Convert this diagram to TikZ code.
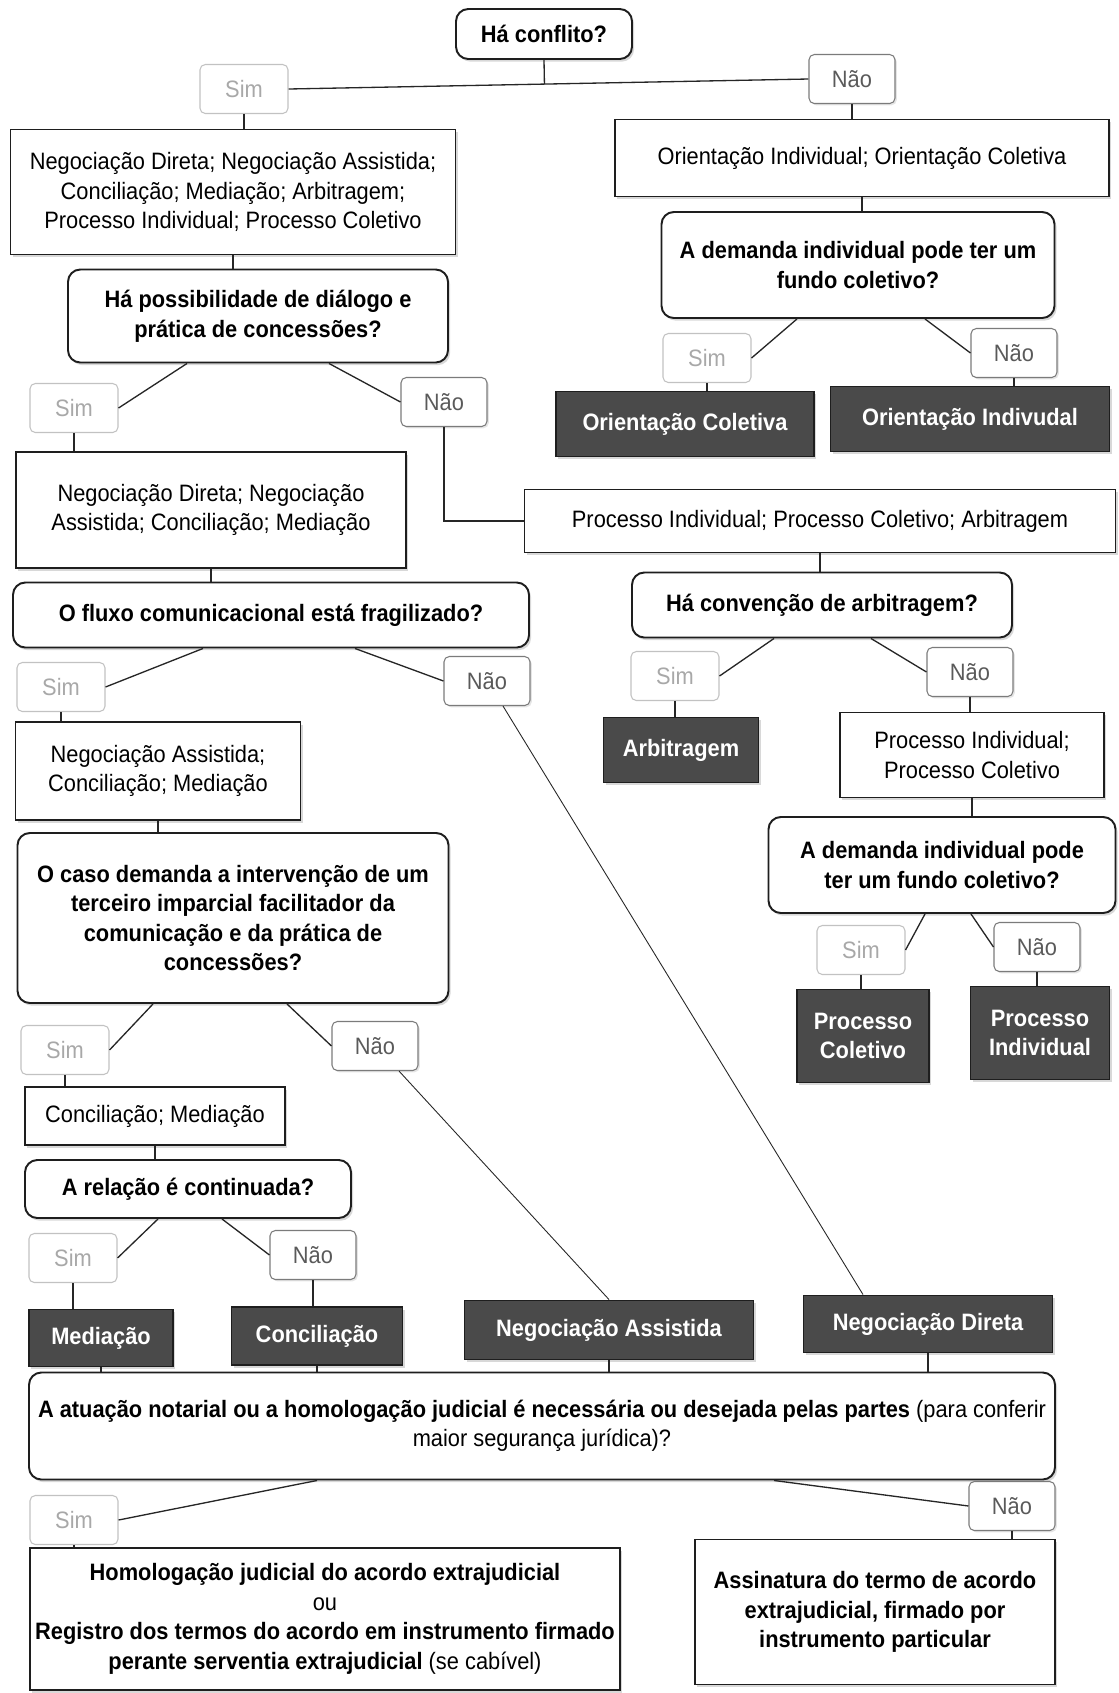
\documentclass[tikz,border=0pt]{standalone}
\usepackage{fontspec}
\setmainfont{Liberation Sans}[FakeStretch=0.92]
\usepackage{tikz}
\usetikzlibrary{calc,shadows}
\definecolor{boxdark}{HTML}{4A4A4A}
\definecolor{boxline}{HTML}{1E1E1E}
\definecolor{simgray}{HTML}{A8A8A8}
\definecolor{naogray}{HTML}{5A5A5A}
\newcommand{\qsize}{\fontsize{13.5}{16.8}\selectfont}
\tikzset{
  boxsize/.style 2 args={minimum width=#1*0.2mm, minimum height=#2*0.2mm},
  optbox/.style={draw=boxline, line width=1.1pt, fill=white, align=center, inner sep=2pt, font=\qsize,
    drop shadow={opacity=0.3, shadow xshift=1.2pt, shadow yshift=-1.5pt}},
  askbox/.style={optbox, rounded corners=7pt, font=\qsize\bfseries},
  endbox/.style={draw=boxline, line width=1.1pt, fill=boxdark, text=white, align=center, inner sep=2pt,
    font=\qsize\bfseries, drop shadow={opacity=0.3, shadow xshift=1.2pt, shadow yshift=-1.5pt}},
  simbox/.style={draw=simgray!70, line width=0.6pt, fill=white, rounded corners=3pt, text=simgray,
    font=\qsize, boxsize={88}{49}},
  naobox/.style={draw=naogray!80, line width=0.6pt, fill=white, rounded corners=3pt, text=naogray,
    font=\qsize, boxsize={86}{49}, drop shadow={opacity=0.2, shadow xshift=1pt, shadow yshift=-1pt}},
  link/.style={line width=0.75pt, black!85}
}

\begin{document}
\begin{tikzpicture}[x=0.2mm, y=-0.2mm]
  \path[use as bounding box, fill=white] (0,0) rectangle (1118,1693);

  \node[askbox, boxsize={176}{50}] (conflito) at (544,34) {Há conflito?};
  \node[simbox] (simA) at (244,89) {Sim};
  \node[naobox] (naoA) at (852,79) {Não};
  \node[optbox, boxsize={445}{125}] (opcoes) at (233,192) {Negociação Direta; Negociação Assistida;\\Conciliação; Mediação; Arbitragem;\\Processo Individual; Processo Coletivo};
  \node[optbox, boxsize={494}{77}] (orient) at (862,158) {Orientação Individual; Orientação Coletiva};
  \node[askbox, boxsize={393}{106}] (demandaA) at (858,265) {A demanda individual pode ter um\\fundo coletivo?};
  \node[askbox, boxsize={380}{93}] (dialogo) at (258,316) {Há possibilidade de diálogo e\\prática de concessões?};
  \node[simbox] (simB) at (707,358) {Sim};
  \node[naobox] (naoB) at (1014,353) {Não};
  \node[endbox, boxsize={258}{65}] (orientCol) at (685,424) {Orientação Coletiva};
  \node[endbox, boxsize={279}{65}] (orientInd) at (970,419) {Orientação Indivudal};
  \node[simbox] (simC) at (74,408) {Sim};
  \node[naobox] (naoC) at (444,402) {Não};
  \node[optbox, boxsize={390}{116}] (negA) at (211,510) {Negociação Direta; Negociação\\Assistida; Conciliação; Mediação};
  \node[optbox, boxsize={591}{63}] (procArb) at (820,521) {Processo Individual; Processo Coletivo; Arbitragem};
  \node[askbox, boxsize={380}{65}] (convencao) at (822,605) {Há convenção de arbitragem?};
  \node[askbox, boxsize={516}{65}] (fluxo) at (271,615) {O fluxo comunicacional está fragilizado?};
  \node[simbox] (simD) at (61,687) {Sim};
  \node[naobox] (naoD) at (487,681) {Não};
  \node[simbox] (simE) at (675,676) {Sim};
  \node[naobox] (naoE) at (970,672) {Não};
  \node[endbox, boxsize={155}{65}] (arbitragem) at (681,750) {Arbitragem};
  \node[optbox, boxsize={264}{85}] (procIC) at (972,755) {Processo Individual;\\Processo Coletivo};
  \node[optbox, boxsize={285}{98}] (negB) at (158,771) {Negociação Assistida;\\Conciliação; Mediação};
  \node[askbox, boxsize={347}{96}] (demandaB) at (942,865) {A demanda individual pode\\ter um fundo coletivo?};
  \node[askbox, boxsize={431}{170}] (caso) at (233,918) {O caso demanda a intervenção de um\\terceiro imparcial facilitador da\\comunicação e da prática de\\concessões?};
  \node[simbox] (simF) at (861,950) {Sim};
  \node[naobox] (naoF) at (1037,947) {Não};
  \node[endbox, boxsize={132}{93}] (procCol) at (863,1036) {Processo\\Coletivo};
  \node[endbox, boxsize={139}{93}] (procInd) at (1040,1033) {Processo\\Individual};
  \node[simbox] (simG) at (65,1050) {Sim};
  \node[naobox] (naoG) at (375,1046) {Não};
  \node[optbox, boxsize={260}{58}] (concMed) at (155,1116) {Conciliação; Mediação};
  \node[askbox, boxsize={326}{58}] (relacao) at (188,1189) {A relação é continuada?};
  \node[simbox] (simH) at (73,1258) {Sim};
  \node[naobox] (naoH) at (313,1255) {Não};
  \node[endbox, boxsize={144}{57}] (mediacao) at (101,1338) {Mediação};
  \node[endbox, boxsize={171}{58}] (conciliacao) at (317,1336) {Conciliação};
  \node[endbox, boxsize={289}{59}] (negAss) at (609,1330) {Negociação Assistida};
  \node[endbox, boxsize={249}{57}] (negDir) at (928,1324) {Negociação Direta};
  \node[askbox, font=\qsize, boxsize={1026}{107}] (atuacao) at (542,1426) {\textbf{A atuação notarial ou a homologação judicial é necessária ou desejada pelas partes} (para conferir\\maior segurança jurídica)?};
  \node[simbox] (simI) at (74,1520) {Sim};
  \node[naobox] (naoI) at (1012,1506) {Não};
  \node[optbox, boxsize={590}{142}] (homolog) at (325,1619) {\textbf{Homologação judicial do acordo extrajudicial}\\ou\\\textbf{Registro dos termos do acordo em instrumento firmado}\\\textbf{perante serventia extrajudicial} (se cabível)};
  \node[optbox, font=\qsize\bfseries, boxsize={360}{145}] (assinatura) at (875,1612) {Assinatura do termo de acordo\\extrajudicial, firmado por\\instrumento particular};

  \coordinate (tee) at ($(simA.east)!(conflito.south)!(naoA.west)$);
  \draw[link] (simA.east) -- (naoA.west);
  \draw[link] (conflito.south) -- (tee);
  \draw[link] (simA.south) -- (simA.south |- opcoes.north);
  \draw[link] (naoA.south) -- (naoA.south |- orient.north);
  \draw[link] (orient.south) -- (orient.south |- demandaA.north);
  \draw[link] ($(demandaA.south)+(-61,0)$) -- (simB.east);
  \draw[link] ($(demandaA.south)+(67,0)$) -- (naoB.west);
  \draw[link] (simB.south) -- (simB.south |- orientCol.north);
  \draw[link] (naoB.south) -- (naoB.south |- orientInd.north);
  \draw[link] (opcoes.south) -- (opcoes.south |- dialogo.north);
  \draw[link] ($(dialogo.south)+(-71,0)$) -- (simC.east);
  \draw[link] ($(dialogo.south)+(71,0)$) -- (naoC.west);
  \draw[link] (simC.south) -- (simC.south |- negA.north);
  \draw[link] (naoC.south) |- (procArb.west);
  \draw[link] (negA.south) -- (negA.south |- fluxo.north);
  \draw[link] (procArb.south) -- (procArb.south |- convencao.north);
  \draw[link] ($(fluxo.south)+(-68,0)$) -- (simD.east);
  \draw[link] ($(fluxo.south)+(84,0)$) -- (naoD.west);
  \draw[link] ($(convencao.south)+(-48,0)$) -- (simE.east);
  \draw[link] ($(convencao.south)+(49,0)$) -- (naoE.west);
  \draw[link] (simE.south) -- (simE.south |- arbitragem.north);
  \draw[link] (naoE.south) -- (naoE.south |- procIC.north);
  \draw[link] (simD.south) -- (simD.south |- negB.north);
  \draw[link] (procIC.south) -- (procIC.south |- demandaB.north);
  \draw[link] (negB.south) -- (negB.south |- caso.north);
  \draw[link] ($(demandaB.south)+(-17,0)$) -- (simF.east);
  \draw[link] ($(demandaB.south)+(29,0)$) -- (naoF.west);
  \draw[link] (simF.south) -- (simF.south |- procCol.north);
  \draw[link] (naoF.south) -- (naoF.south |- procInd.north);
  \draw[link] ($(caso.south)+(-80,0)$) -- (simG.east);
  \draw[link] ($(caso.south)+(54,0)$) -- (naoG.west);
  \draw[link] (simG.south) -- (simG.south |- concMed.north);
  \draw[link] (concMed.south) -- (concMed.south |- relacao.north);
  \draw[link] ($(relacao.south)+(-30,0)$) -- (simH.east);
  \draw[link] ($(relacao.south)+(34,0)$) -- (naoH.west);
  \draw[link] (simH.south) -- (simH.south |- mediacao.north);
  \draw[link] (naoH.south) -- (naoH.south |- conciliacao.north);
  \draw[link, line width=0.5pt] ($(naoD.south)+(16,0)$) -- ($(negDir.north)+(-65,0)$);
  \draw[link, line width=0.5pt] ($(naoG.south)+(24,0)$) -- (negAss.north);
  \foreach \n in {mediacao,conciliacao,negAss,negDir}
    \draw[link] (\n.south) -- (\n.south |- atuacao.north);
  \draw[link] ($(atuacao.south)+(-225,0)$) -- (simI.east);
  \draw[link] ($(atuacao.south)+(232,0)$) -- (naoI.west);
  \draw[link] (simI.south) -- (simI.south |- homolog.north);
  \draw[link] (naoI.south) -- (naoI.south |- assinatura.north);
\end{tikzpicture}
\end{document}
